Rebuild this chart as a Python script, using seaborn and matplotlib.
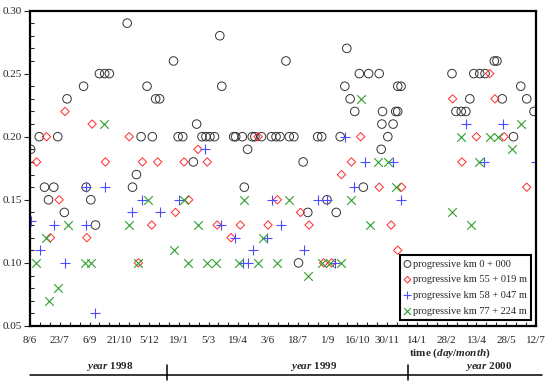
import matplotlib
matplotlib.use('Agg')
import matplotlib.pyplot as plt
import matplotlib.transforms as mtransforms
from matplotlib.ticker import MultipleLocator, FormatStrFormatter
import seaborn as sns
import numpy as np

# days counted from 8/6/1998
tick_labels = ['8/6', '23/7', '6/9', '21/10', '5/12', '19/1', '5/3', '19/4', '3/6',
               '18/7', '1/9', '16/10', '30/11', '14/1', '28/2', '13/4', '28/5', '12/7']

km0_day = [1, 14, 22, 28, 36, 42, 52, 56, 81, 85, 92, 99, 105, 113, 120, 147, 155, 161,
           168, 177, 185, 190, 196, 217, 224, 231, 247, 252, 260, 266, 272, 279, 287, 290,
           308, 311, 321, 324, 329, 336, 340, 350, 365, 372, 378, 387, 392, 399, 406, 413,
           420, 435, 441, 449, 463, 469, 476, 479, 484, 491, 498, 504, 512, 528, 531, 532,
           533, 541, 549, 553, 556, 556, 561, 638, 644, 652, 659, 665, 671, 680, 688, 702,
           706, 714, 731, 742, 751, 762]
km0_val = [0.19, 0.20, 0.16, 0.15, 0.16, 0.20, 0.14, 0.23, 0.24, 0.16, 0.15, 0.13, 0.25,
           0.25, 0.25, 0.29, 0.16, 0.17, 0.20, 0.24, 0.20, 0.23, 0.23, 0.26, 0.20, 0.20,
           0.18, 0.21, 0.20, 0.20, 0.20, 0.20, 0.28, 0.24, 0.20, 0.20, 0.20, 0.16, 0.19,
           0.20, 0.20, 0.20, 0.20, 0.20, 0.20, 0.26, 0.20, 0.20, 0.10, 0.18, 0.14, 0.20,
           0.20, 0.15, 0.14, 0.20, 0.24, 0.27, 0.23, 0.22, 0.25, 0.16, 0.25, 0.25, 0.19,
           0.21, 0.22, 0.20, 0.21, 0.22, 0.22, 0.24, 0.24, 0.25, 0.22, 0.22, 0.22, 0.23,
           0.25, 0.25, 0.25, 0.26, 0.26, 0.23, 0.20, 0.24, 0.23, 0.22]

km55_day = [10, 25, 31, 44, 53, 86, 94, 114, 150, 164, 170, 184, 193, 220, 233, 240, 254,
            268, 283, 304, 318, 345, 360, 374, 409, 422, 444, 456, 471, 486, 500, 528, 546,
            556, 562, 639, 653, 675, 695, 703, 717, 751]
km55_val = [0.18, 0.20, 0.12, 0.15, 0.22, 0.12, 0.21, 0.18, 0.20, 0.10, 0.18, 0.13, 0.18,
            0.14, 0.18, 0.15, 0.19, 0.18, 0.13, 0.12, 0.13, 0.20, 0.13, 0.15, 0.14, 0.13,
            0.10, 0.10, 0.17, 0.18, 0.20, 0.16, 0.13, 0.11, 0.16, 0.23, 0.18, 0.20, 0.25,
            0.23, 0.20, 0.16]

km58_day = [2, 15, 37, 53, 85, 85, 99, 113, 155, 169, 196, 225, 264, 289, 310, 322, 330,
            337, 359, 366, 379, 415, 436, 449, 461, 476, 490, 507, 549, 561, 659, 687, 715,
            765]
km58_val = [0.133, 0.11, 0.13, 0.10, 0.16, 0.13, 0.06, 0.16, 0.14, 0.15, 0.14, 0.15, 0.19,
            0.13, 0.12, 0.10, 0.10, 0.11, 0.12, 0.15, 0.13, 0.11, 0.15, 0.15, 0.10, 0.20,
            0.16, 0.18, 0.18, 0.15, 0.21, 0.18, 0.21, 0.18]

km77_day = [9, 24, 29, 43, 57, 83, 92, 112, 149, 163, 178, 218, 233, 239, 254, 267, 281,
            316, 323, 344, 353, 373, 391, 421, 441, 453, 470, 485, 500, 514, 526, 541, 554,
            638, 652, 667, 679, 696, 707, 728, 743]
km77_val = [0.10, 0.12, 0.07, 0.08, 0.13, 0.10, 0.10, 0.21, 0.13, 0.10, 0.15, 0.11, 0.15,
            0.10, 0.13, 0.10, 0.10, 0.10, 0.15, 0.10, 0.12, 0.10, 0.15, 0.09, 0.10, 0.10,
            0.10, 0.15, 0.23, 0.13, 0.18, 0.18, 0.16, 0.14, 0.20, 0.13, 0.18, 0.20, 0.20,
            0.19, 0.21]

years = ['1998', '1999', '2000']
year_breaks = [207, 572]      # 1/1/1999, 1/1/2000
year_centres = [120, 429, 693]

sns.set_style('ticks')
plt.rcParams['font.family'] = ['Liberation Serif', 'DejaVu Serif']
plt.rcParams['mathtext.fontset'] = 'custom'
plt.rcParams['mathtext.rm'] = 'Liberation Serif:bold'
plt.rcParams['mathtext.it'] = 'Liberation Serif:italic:bold'
plt.rcParams['mathtext.bf'] = 'Liberation Serif:bold'

fig = plt.figure(figsize=(5.5, 3.81), dpi=100)
ax = fig.add_axes([0.0545, 0.1444, 0.92, 0.828])

sns.scatterplot(x=km0_day, y=km0_val, marker='o', s=38, facecolor='none',
                edgecolor='#333333', linewidth=0.7, label='progressive km 0 + 000', ax=ax)
sns.scatterplot(x=km55_day, y=km55_val, marker='D', s=18, facecolor='none',
                edgecolor='#ff2a2a', linewidth=0.7, label='progressive km 55 + 019 m', ax=ax)
sns.scatterplot(x=km58_day, y=km58_val, marker='+', s=45, color='#4b4bff',
                linewidth=0.8, label='progressive km 58 + 047 m', ax=ax)
sns.scatterplot(x=km77_day, y=km77_val, marker='x', s=38, color='#2ca02c',
                linewidth=0.8, label='progressive km 77 + 224 m', ax=ax)

ax.set_xlim(0, 765)
ax.set_ylim(0.05, 0.30)
ax.set_xticks(np.arange(len(tick_labels)) * 45)
ax.set_xticklabels(tick_labels)
ax.xaxis.set_minor_locator(MultipleLocator(15))
ax.yaxis.set_major_locator(MultipleLocator(0.05))
ax.yaxis.set_minor_locator(MultipleLocator(0.01))
ax.yaxis.set_major_formatter(FormatStrFormatter('%.2f'))
ax.tick_params(axis='x', which='both', direction='in', length=3, width=0.8,
               labelsize=8, pad=7, top=False)
ax.tick_params(axis='y', which='major', direction='out', length=4, width=0.8,
               labelsize=8, pad=2)
ax.tick_params(axis='y', which='minor', direction='in', length=3, width=0.8)
for sp in ax.spines.values():
    sp.set_visible(True)
    sp.set_linewidth(1.6)
    sp.set_color('black')

leg = ax.legend(loc='lower right', bbox_to_anchor=(0.995, 0.012), fontsize=7.5,
                frameon=True, fancybox=False, handlelength=0.7, handletextpad=0.2,
                borderpad=0.4, labelspacing=0.62, borderaxespad=0.2, markerscale=0.8)
leg.get_frame().set_edgecolor('black')
leg.get_frame().set_linewidth(1.5)
leg.get_frame().set_alpha(1)

trans = mtransforms.blended_transform_factory(ax.transData, ax.transAxes)
ax.text(635, -0.085, r'time ($day/month$)', transform=trans, ha='center', va='center',
        fontsize=8, fontweight='bold')
ax.plot([0, 774], [-0.155, -0.155], transform=trans, color='black', lw=1.1, clip_on=False)
for b in year_breaks:
    ax.plot([b, b], [-0.125, -0.17], transform=trans, color='black', lw=1.1, clip_on=False)
for c, yr in zip(year_centres, years):
    ax.text(c, -0.128, r'$year$ ' + yr, transform=trans, ha='center', va='center',
            fontsize=8, fontweight='bold')

fig.savefig('out.png', dpi=100)
